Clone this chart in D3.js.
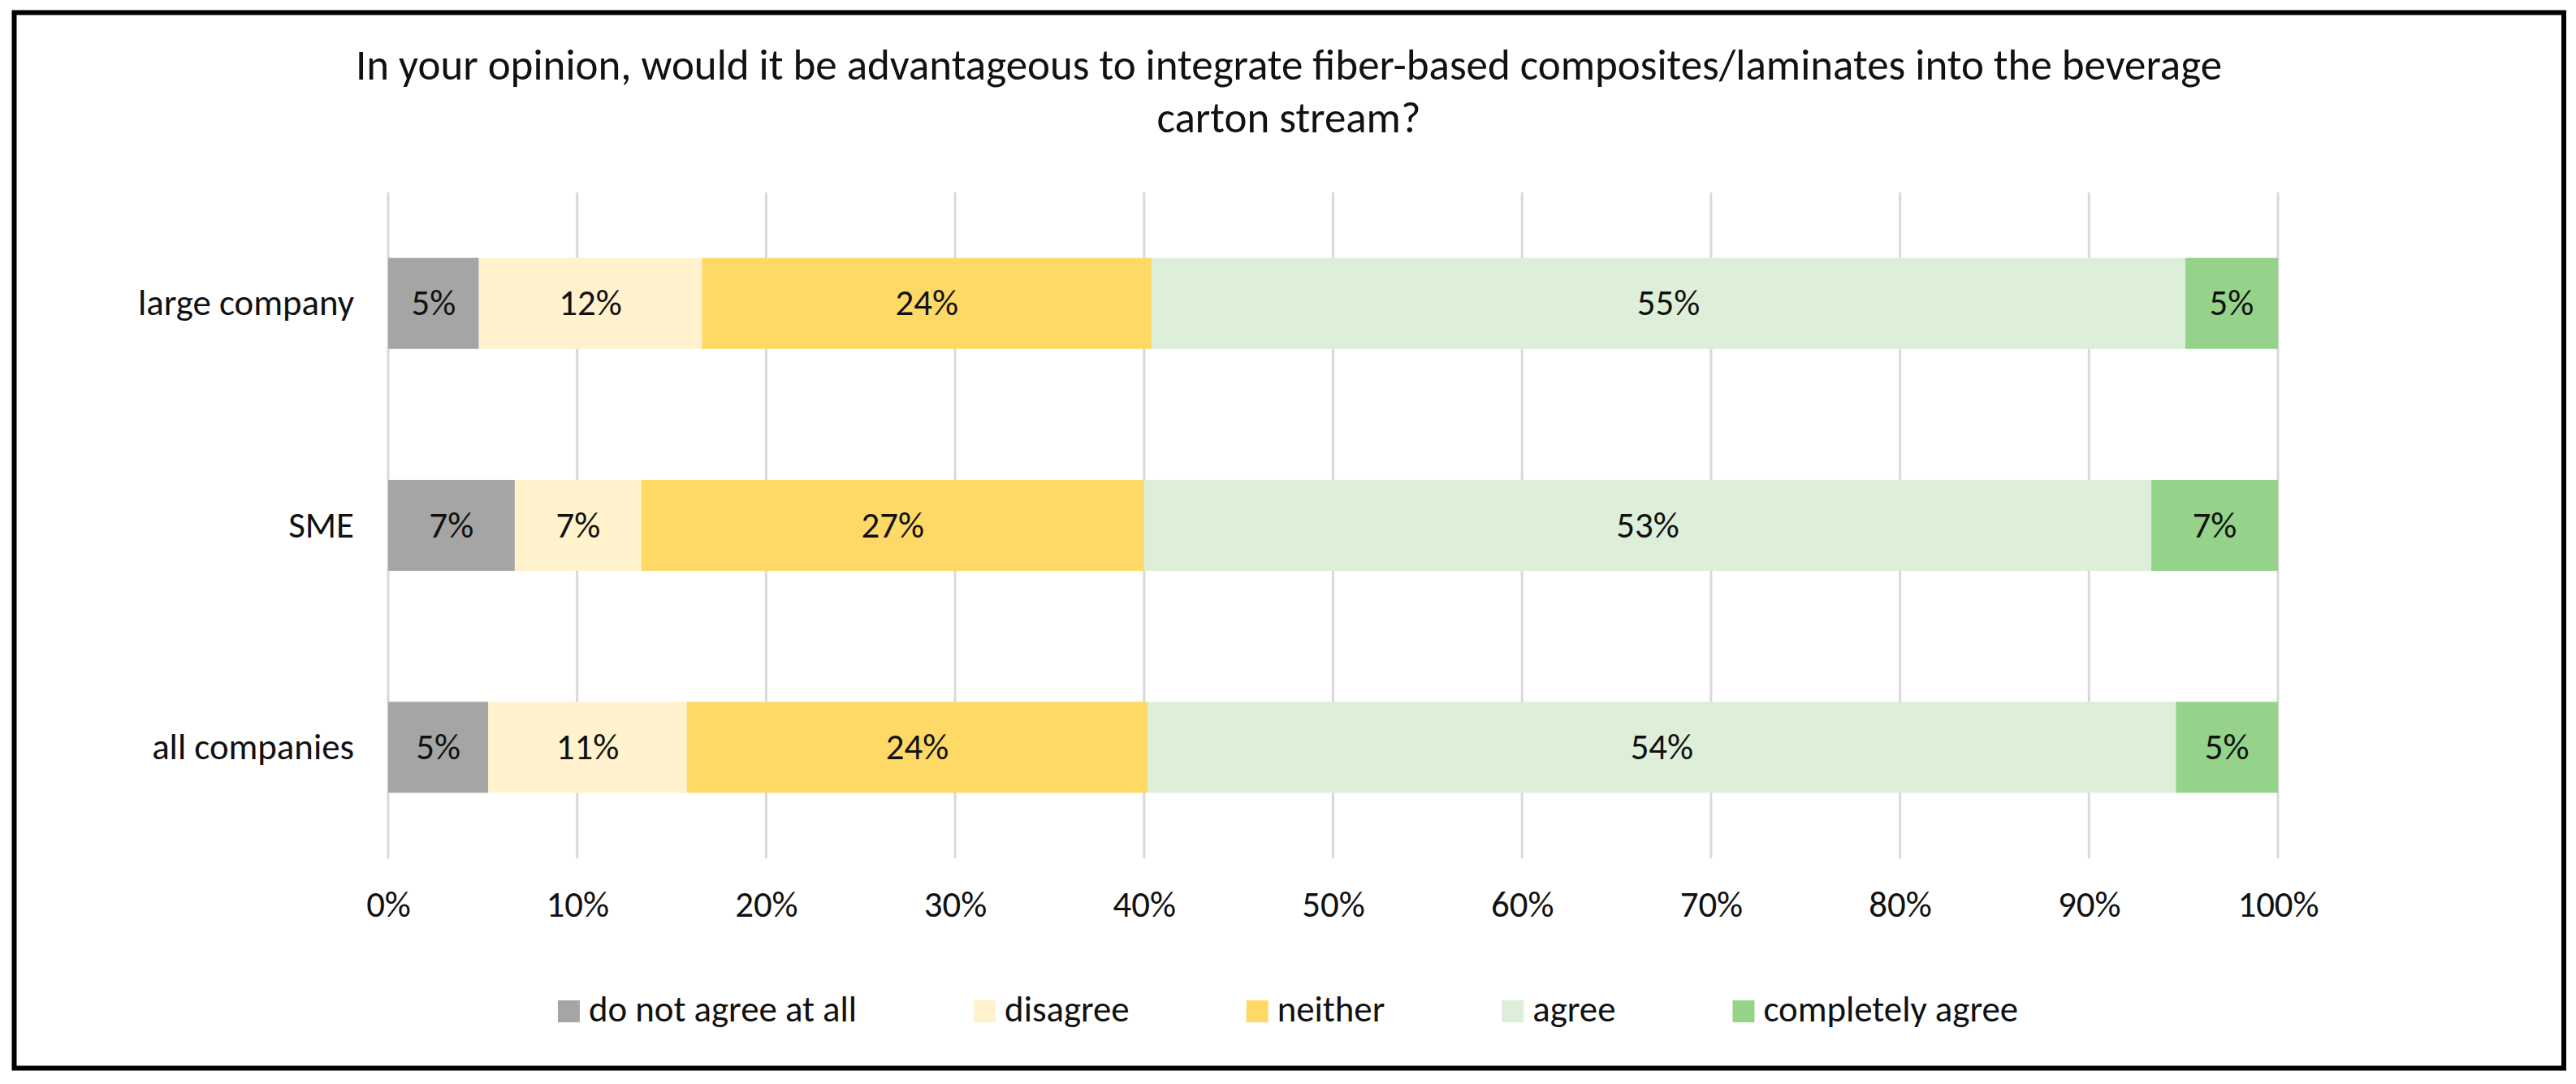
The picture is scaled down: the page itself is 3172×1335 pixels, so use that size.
<!DOCTYPE html>
<html><head><meta charset="utf-8">
<script src="https://cdn.jsdelivr.net/npm/d3@7/dist/d3.min.js"></script>
<style>html,body{margin:0;padding:0;background:#fff;overflow:hidden}</style>
</head><body>
<svg id="chart" width="3172" height="1335"></svg>
<script>
// ---- data ----
const categories = ["large company", "SME", "all companies"];
const seriesNames = ["do not agree at all", "disagree", "neither", "agree", "completely agree"];
const doNotAgree      = [4.8, 6.7, 5.3];
const disagree        = [11.8, 6.7, 10.5];
const neither         = [23.8, 26.6, 24.4];
const agree           = [54.7, 53.3, 54.4];
const completelyAgree = [4.9, 6.7, 5.4];
const xTicks = [0, 10, 20, 30, 40, 50, 60, 70, 80, 90, 100];
const titleLines = ["In your opinion, would it be advantageous to integrate fiber-based composites/laminates into the beverage", "carton stream?"];

// ---- styles ----
const seriesColors = ["#A5A5A5", "#FFF2CC", "#FFD966", "#DDEFD9", "#94D389"];
const FONT = "Carlito, Calibri, Lato, 'Liberation Sans', sans-serif";

const svg = d3.select("#chart");
svg.append("rect").attr("x",0).attr("y",0).attr("width",3172).attr("height",1335).attr("fill","#fff");

// font scale calibration (target metrics of Calibri 44px)
const probe = svg.append("text").attr("font-family", FONT).attr("font-size", 44).text("large company");
const k = 266 / probe.node().getComputedTextLength();
probe.remove();
const fs = 44 * k, fsTitle = 52 * k;

const series = [doNotAgree, disagree, neither, agree, completelyAgree];
const rows = categories.map((c, i) => {
  const r = {category: c};
  seriesNames.forEach((s, j) => r[s] = series[j][i]);
  return r;
});
const stacked = d3.stack().keys(seriesNames)(rows);

const x = d3.scaleLinear().domain([0, 100]).range([478, 2805]);
const y = d3.scaleBand().domain(categories).range([237, 1057]).paddingInner(0.59).paddingOuter(0.295);

// gridlines
svg.append("g").selectAll("line").data(xTicks).join("line")
  .attr("x1", d => x(d)).attr("x2", d => x(d))
  .attr("y1", 237).attr("y2", 1057)
  .attr("stroke", "#D9D9D9").attr("stroke-width", 3);

// bars
const layers = svg.append("g").selectAll("g").data(stacked).join("g")
  .attr("fill", (d, i) => seriesColors[i]);
layers.selectAll("rect").data(d => d).join("rect")
  .attr("x", d => x(d[0]))
  .attr("width", d => x(d[1]) - x(d[0]))
  .attr("y", d => y(d.data.category))
  .attr("height", y.bandwidth());

// bar labels
layers.selectAll("text").data(d => d).join("text")
  .attr("x", d => (x(d[0]) + x(d[1])) / 2)
  .attr("y", d => y(d.data.category) + y.bandwidth() / 2 + 0.33 * fs)
  .attr("text-anchor", "middle")
  .attr("font-family", FONT).attr("font-size", fs).attr("fill", "#111")
  .text(d => Math.round(d[1] - d[0]) + "%");

// x axis labels
const xAxis = d3.axisBottom(x).tickValues(xTicks).tickFormat(d => d + "%").tickSize(0).tickPadding(0);
const gx = svg.append("g").attr("transform", "translate(0,1129)").call(xAxis);
gx.select(".domain").remove();
gx.selectAll("text").attr("dy", null).attr("y", 0)
  .attr("font-family", FONT).attr("font-size", fs).attr("fill", "#111");

// y axis labels
const yAxis = d3.axisLeft(y).tickSize(0).tickPadding(0);
const gy = svg.append("g").attr("transform", "translate(436,0)").call(yAxis);
gy.select(".domain").remove();
gy.selectAll("text").attr("dy", null).attr("y", 0.33 * fs)
  .attr("font-family", FONT).attr("font-size", fs).attr("fill", "#111");

// title
svg.append("g").selectAll("text").data(titleLines).join("text")
  .attr("x", 1587).attr("y", (d, i) => 98 + i * 65)
  .attr("text-anchor", "middle")
  .attr("font-family", FONT).attr("font-size", fsTitle).attr("fill", "#111")
  .text(d => d);

// legend
const lg = svg.append("g");
const items = lg.selectAll("g").data(seriesNames).join("g");
items.append("rect").attr("width", 27).attr("height", 27).attr("y", 1232)
  .attr("fill", (d, i) => seriesColors[i]);
items.append("text").attr("x", 38).attr("y", 1258)
  .attr("font-family", FONT).attr("font-size", fs).attr("fill", "#111")
  .text(d => d);
let widths = [];
items.each(function() { widths.push(d3.select(this).select("text").node().getComputedTextLength()); });
const gap = 144;
const total = d3.sum(widths, w => 38 + w) + gap * (widths.length - 1);
let cx = 1586 - total / 2;
items.attr("transform", (d, i) => { const t = `translate(${cx},0)`; cx += 38 + widths[i] + gap; return t; });

// outer frame
svg.append("rect").attr("x", 17.5).attr("y", 15.5).attr("width", 3139.5).attr("height", 1300)
  .attr("fill", "none").attr("stroke", "#000").attr("stroke-width", 6);
</script>
</body></html>
